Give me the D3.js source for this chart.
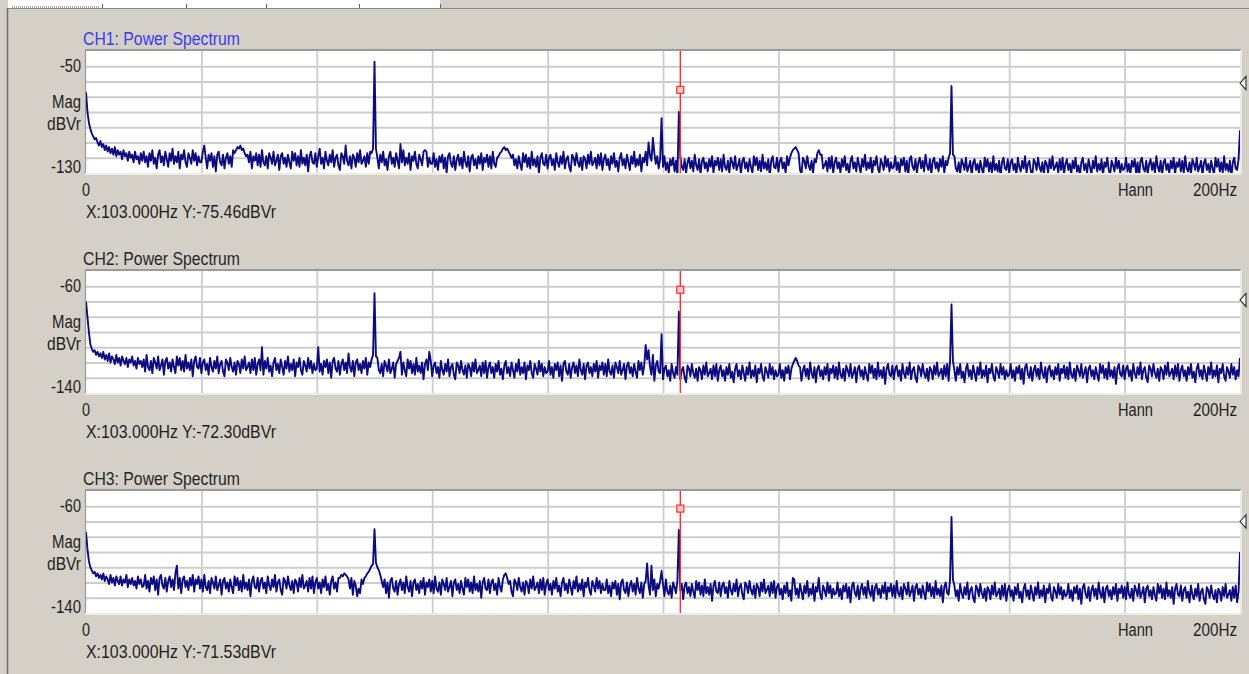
<!DOCTYPE html>
<html><head><meta charset="utf-8">
<script src="https://cdn.jsdelivr.net/npm/d3@7"></script>
<style>html,body{margin:0;padding:0;background:#d4d0c8;overflow:hidden}svg{display:block}</style>
</head><body>
<svg id="c" width="1249" height="674"></svg>
<script>
// ---------------- data ----------------
const freqStepHz = 0.25;
const freqDomain = [0, 200];
const xTickStep = 20;
const yTickStep = 10;
const channelTitles = ["CH1: Power Spectrum", "CH2: Power Spectrum", "CH3: Power Spectrum"];
const yRanges = [[-130, -50], [-140, -60], [-140, -60]];
const cursorFreq = 103;
const cursorValues = [-75.46, -72.30, -71.53];
const refLevels = [-71, -79, -80];
const windowName = "Hann";
const xEndLabel = "200Hz";
const unitLabels = ["Mag", "dBVr"];

// magnitude (dBVr) every 0.25 Hz, 0..200 Hz; one row = 10 Hz
const ch1Floor = [
-77,-90,-97,-101,-104,-106,-108,-107,-110,-112,-109,-113,-111,-115,-112,-116,-113,-117,-114,-118,-113,-119,-115,-118,-116,-121,-115,-119,-117,-122,-116,-120,-118,-123,-116,-121,-119,-124,-117,-122,
-116,-123,-119,-126,-117,-122,-115,-124,-120,-127,-118,-115,-123,-119,-125,-116,-121,-126,-117,-122,-114,-124,-119,-123,-116,-127,-118,-121,-115,-123,-126,-117,-120,-124,-115,-122,-117,-125,-119,-123,
-123,-116,-112,-120,-127,-118,-122,-117,-126,-119,-129,-118,-116,-123,-125,-118,-127,-120,-117,-124,-119,-126,-115,-117,-115,-113,-114,-112,-115,-114,-117,-119,-118,-123,-116,-127,-119,-122,-117,-125,
-118,-126,-115,-123,-125,-119,-127,-117,-120,-124,-116,-125,-122,-118,-128,-119,-117,-124,-120,-126,-118,-123,-127,-116,-122,-117,-125,-119,-126,-115,-124,-120,-125,-118,-129,-119,-116,-123,-124,-117,
-126,-119,-114,-124,-120,-127,-116,-122,-125,-118,-123,-115,-126,-120,-118,-125,-128,-117,-119,-124,-112,-122,-125,-119,-127,-118,-120,-126,-117,-123,-115,-124,-122,-119,-126,-117,-124,-116,-117,-114,
-112,-114,-120,-127,-118,-123,-116,-125,-121,-128,-119,-116,-124,-120,-126,-117,-122,-127,-111,-123,-115,-125,-120,-124,-117,-128,-119,-122,-116,-124,-127,-118,-121,-125,-116,-115,-116,-126,-120,-124,
-124,-117,-126,-121,-128,-119,-123,-118,-127,-120,-130,-119,-117,-124,-126,-119,-128,-121,-118,-125,-120,-127,-116,-123,-126,-119,-129,-120,-118,-125,-121,-127,-119,-124,-117,-128,-120,-123,-118,-126,
-119,-127,-116,-124,-126,-120,-119,-117,-116,-114,-113,-115,-114,-116,-118,-120,-118,-125,-121,-127,-119,-124,-128,-117,-123,-118,-126,-120,-127,-116,-125,-121,-126,-119,-130,-120,-117,-124,-125,-118,
-127,-120,-118,-125,-121,-128,-117,-123,-126,-119,-124,-116,-127,-121,-119,-126,-129,-118,-120,-125,-117,-123,-126,-120,-128,-119,-121,-127,-118,-124,-116,-125,-123,-120,-127,-118,-125,-117,-128,-121,
-118,-125,-121,-128,-119,-124,-117,-126,-122,-129,-120,-117,-125,-121,-127,-118,-123,-128,-119,-124,-116,-126,-121,-125,-118,-129,-120,-123,-117,-125,-128,-119,-122,-126,-117,-124,-119,-127,-121,-125,
-126,-119,-128,-123,-130,-121,-125,-120,-129,-122,-132,-121,-119,-126,-128,-121,-130,-123,-120,-127,-122,-129,-118,-125,-128,-121,-131,-122,-120,-127,-123,-129,-121,-126,-119,-130,-122,-125,-120,-128,
-121,-129,-118,-126,-128,-122,-130,-120,-123,-127,-119,-128,-125,-121,-131,-122,-120,-127,-123,-129,-121,-126,-130,-119,-125,-120,-128,-122,-129,-118,-127,-123,-128,-121,-132,-122,-119,-126,-127,-120,
-129,-122,-120,-127,-123,-130,-119,-125,-120,-117,-115,-114,-113,-115,-117,-128,-131,-120,-122,-127,-119,-125,-128,-122,-130,-121,-123,-117,-115,-118,-118,-127,-125,-122,-129,-120,-127,-119,-130,-123,
-120,-127,-123,-130,-121,-126,-119,-128,-124,-131,-122,-119,-127,-123,-129,-120,-125,-130,-121,-126,-118,-128,-123,-127,-120,-131,-122,-125,-119,-127,-130,-121,-124,-128,-119,-126,-121,-129,-123,-127,
-126,-119,-128,-123,-130,-121,-125,-120,-129,-122,-132,-121,-119,-126,-128,-121,-130,-123,-120,-127,-122,-129,-118,-125,-128,-121,-131,-122,-120,-127,-123,-129,-121,-126,-119,-130,-122,-125,-120,-117,
-122,-118,-119,-127,-129,-123,-131,-121,-124,-128,-120,-129,-126,-122,-132,-123,-121,-128,-124,-130,-122,-127,-131,-120,-126,-121,-129,-123,-130,-119,-128,-124,-129,-122,-133,-123,-120,-127,-128,-121,
-130,-123,-121,-128,-124,-131,-120,-126,-129,-122,-127,-119,-130,-124,-122,-129,-132,-121,-123,-128,-120,-126,-129,-123,-131,-122,-124,-130,-121,-127,-119,-128,-126,-123,-130,-121,-128,-120,-131,-124,
-121,-128,-124,-131,-122,-127,-120,-129,-125,-132,-123,-120,-128,-124,-130,-121,-126,-131,-122,-127,-119,-129,-124,-128,-121,-132,-123,-126,-120,-128,-131,-122,-125,-129,-120,-127,-122,-130,-124,-128,
-127,-120,-129,-124,-131,-122,-126,-121,-130,-123,-133,-122,-120,-127,-129,-122,-131,-124,-121,-128,-123,-130,-119,-126,-129,-122,-132,-123,-121,-128,-124,-130,-122,-127,-120,-131,-123,-126,-121,-129,
-122,-130,-119,-127,-129,-123,-131,-121,-124,-128,-120,-129,-126,-122,-132,-123,-121,-128,-124,-130,-122,-127,-131,-120,-126,-121,-129,-123,-130,-119,-128,-124,-129,-122,-133,-123,-120,-127,-128,-121,
-102];
const ch1Peaks = [[50,-57],[97,-116],[97.5,-110],[98.25,-107],[99.75,-94],[102.75,-90],[150,-73]];

const ch2Floor = [
-80,-90,-100,-108,-111,-113,-112,-115,-113,-116,-114,-117,-113,-118,-115,-119,-114,-120,-116,-118,-121,-115,-120,-117,-122,-116,-119,-121,-117,-123,-118,-120,-116,-122,-119,-124,-117,-121,-119,-123,
-118,-126,-115,-123,-125,-119,-127,-117,-120,-124,-116,-125,-122,-118,-128,-119,-117,-124,-120,-126,-118,-123,-127,-116,-122,-117,-125,-119,-126,-115,-124,-120,-125,-118,-129,-119,-116,-123,-124,-117,
-127,-120,-118,-125,-121,-128,-117,-123,-126,-119,-124,-116,-127,-121,-119,-126,-129,-118,-120,-125,-117,-123,-126,-120,-128,-119,-121,-127,-118,-124,-116,-125,-123,-120,-127,-118,-125,-117,-128,-121,
-118,-125,-110,-128,-119,-124,-117,-126,-122,-129,-120,-117,-125,-121,-127,-118,-123,-128,-119,-124,-116,-126,-121,-125,-118,-129,-120,-123,-117,-125,-128,-119,-122,-126,-117,-124,-119,-127,-121,-125,
-124,-110,-126,-121,-128,-119,-123,-118,-127,-120,-130,-119,-117,-124,-126,-119,-128,-121,-118,-125,-120,-127,-114,-123,-126,-119,-129,-120,-118,-125,-121,-127,-119,-124,-117,-128,-120,-123,-118,-115,
-120,-116,-117,-125,-127,-121,-129,-119,-122,-126,-118,-127,-124,-120,-130,-121,-119,-117,-113,-128,-120,-125,-129,-118,-124,-119,-127,-121,-128,-117,-126,-122,-127,-120,-131,-121,-118,-125,-113,-119,
-129,-122,-120,-127,-123,-130,-119,-125,-128,-121,-126,-118,-129,-123,-121,-128,-131,-120,-122,-127,-119,-125,-128,-122,-130,-121,-123,-129,-120,-126,-118,-127,-125,-122,-129,-120,-127,-119,-130,-123,
-120,-127,-123,-130,-121,-126,-119,-128,-124,-131,-122,-119,-127,-123,-129,-120,-125,-130,-121,-126,-118,-128,-123,-127,-120,-131,-122,-125,-119,-127,-130,-121,-124,-128,-119,-126,-121,-129,-123,-127,
-126,-119,-128,-123,-130,-121,-125,-120,-129,-122,-132,-121,-119,-126,-128,-121,-130,-123,-120,-127,-122,-129,-118,-125,-128,-121,-131,-122,-120,-127,-123,-129,-121,-126,-119,-130,-122,-125,-120,-128,
-121,-129,-118,-126,-128,-122,-130,-120,-123,-127,-119,-128,-125,-121,-131,-122,-120,-127,-123,-129,-121,-126,-130,-119,-125,-120,-128,-122,-129,-118,-127,-123,-128,-121,-132,-122,-119,-126,-127,-120,
-131,-124,-122,-129,-125,-132,-121,-127,-130,-123,-128,-120,-131,-125,-123,-130,-133,-122,-124,-129,-121,-127,-130,-124,-132,-123,-125,-131,-122,-128,-120,-129,-127,-124,-131,-122,-129,-121,-132,-125,
-122,-129,-125,-132,-123,-128,-121,-130,-126,-133,-124,-121,-129,-125,-131,-122,-127,-132,-123,-128,-120,-130,-125,-129,-122,-133,-124,-127,-121,-129,-132,-123,-126,-130,-121,-128,-123,-131,-125,-129,
-128,-121,-130,-125,-132,-123,-127,-122,-131,-124,-121,-119,-117,-119,-122,-123,-132,-125,-122,-129,-124,-131,-120,-127,-130,-123,-133,-124,-122,-129,-125,-131,-123,-128,-121,-132,-124,-127,-122,-130,
-123,-131,-120,-128,-130,-124,-132,-122,-125,-129,-121,-130,-127,-123,-133,-124,-122,-129,-125,-131,-123,-128,-132,-121,-127,-122,-130,-124,-131,-120,-129,-125,-130,-123,-134,-124,-121,-128,-129,-122,
-131,-124,-122,-129,-125,-132,-121,-127,-130,-123,-128,-120,-131,-125,-123,-130,-133,-122,-124,-129,-121,-127,-130,-124,-132,-123,-125,-131,-122,-128,-120,-129,-127,-124,-131,-122,-129,-121,-132,-119,
-122,-119,-125,-132,-123,-128,-121,-130,-126,-133,-124,-121,-129,-125,-131,-122,-127,-132,-123,-128,-120,-130,-125,-129,-122,-133,-124,-127,-121,-129,-132,-123,-126,-130,-121,-128,-123,-131,-125,-129,
-128,-121,-130,-125,-132,-123,-127,-122,-131,-124,-134,-123,-121,-128,-130,-123,-132,-125,-122,-129,-124,-131,-120,-127,-130,-123,-133,-124,-122,-129,-125,-131,-123,-128,-121,-132,-124,-127,-122,-130,
-123,-131,-120,-128,-130,-124,-132,-122,-125,-129,-121,-130,-127,-123,-133,-124,-122,-129,-125,-131,-123,-128,-132,-121,-127,-122,-130,-124,-131,-120,-129,-125,-130,-123,-134,-124,-121,-128,-129,-122,
-131,-124,-122,-129,-125,-132,-121,-127,-130,-123,-128,-120,-131,-125,-123,-130,-133,-122,-124,-129,-121,-127,-130,-124,-132,-123,-125,-131,-122,-128,-120,-129,-127,-124,-131,-122,-129,-121,-132,-125,
-122,-129,-125,-132,-123,-128,-121,-130,-126,-133,-124,-121,-129,-125,-131,-122,-127,-132,-123,-128,-120,-130,-125,-129,-122,-133,-124,-127,-121,-129,-132,-123,-126,-130,-121,-128,-123,-131,-125,-129,
-117];
const ch2Peaks = [[50,-74.6],[97,-108.5],[97.5,-112],[98.25,-115],[99.75,-101.5],[102.75,-86.7],[150,-82]];

const ch3Floor = [
-87,-98,-106,-110,-112,-114,-113,-116,-114,-117,-115,-118,-114,-119,-116,-118,-121,-115,-120,-117,-122,-116,-119,-121,-116,-122,-118,-120,-115,-123,-118,-121,-117,-122,-119,-124,-116,-121,-118,-123,
-122,-115,-124,-119,-126,-117,-121,-116,-125,-118,-128,-117,-115,-122,-124,-117,-126,-119,-116,-123,-118,-125,-114,-109,-124,-117,-127,-118,-116,-123,-119,-125,-117,-122,-115,-126,-118,-121,-116,-124,
-118,-126,-115,-123,-125,-119,-127,-117,-120,-124,-116,-125,-122,-118,-128,-119,-117,-124,-120,-126,-118,-123,-127,-116,-122,-117,-125,-119,-126,-115,-124,-120,-125,-118,-129,-119,-116,-123,-124,-117,
-126,-119,-117,-124,-120,-127,-116,-122,-125,-118,-123,-115,-126,-120,-118,-125,-128,-117,-119,-124,-116,-122,-125,-119,-127,-118,-120,-126,-117,-123,-115,-124,-122,-119,-126,-117,-124,-116,-127,-120,
-117,-124,-120,-127,-118,-123,-116,-125,-121,-128,-119,-116,-124,-120,-126,-117,-117,-115,-116,-114,-115,-116,-118,-124,-117,-128,-119,-122,-129,-124,-127,-118,-121,-117,-116,-114,-113,-111,-109,-108,
-124,-107,-110,-112,-115,-119,-123,-118,-127,-120,-130,-119,-117,-124,-126,-119,-128,-121,-118,-125,-120,-127,-116,-123,-126,-119,-129,-120,-118,-125,-121,-127,-119,-124,-117,-128,-120,-123,-118,-126,
-119,-127,-116,-124,-126,-120,-128,-118,-121,-125,-117,-126,-123,-119,-129,-120,-118,-125,-121,-127,-119,-124,-128,-117,-123,-118,-126,-120,-127,-116,-125,-121,-126,-119,-130,-120,-117,-124,-125,-118,
-127,-120,-118,-125,-121,-128,-117,-123,-126,-118,-115,-114,-117,-121,-119,-126,-129,-118,-120,-125,-117,-123,-126,-120,-128,-119,-121,-127,-118,-124,-116,-125,-123,-120,-127,-118,-125,-117,-128,-121,
-118,-125,-121,-128,-119,-124,-117,-126,-122,-129,-120,-117,-125,-121,-127,-118,-123,-128,-119,-124,-116,-126,-121,-125,-118,-129,-120,-123,-117,-125,-128,-119,-122,-126,-117,-124,-119,-127,-121,-125,
-125,-118,-127,-122,-129,-120,-124,-119,-128,-121,-131,-120,-118,-125,-127,-120,-129,-122,-119,-126,-121,-128,-117,-124,-127,-120,-130,-121,-119,-126,-122,-128,-120,-125,-118,-129,-121,-124,-119,-127,
-121,-129,-118,-126,-128,-122,-130,-120,-123,-127,-119,-128,-125,-121,-131,-122,-120,-127,-123,-129,-121,-126,-130,-119,-125,-120,-128,-122,-129,-118,-127,-123,-128,-121,-132,-122,-119,-126,-127,-120,
-129,-122,-120,-127,-123,-130,-119,-125,-128,-121,-126,-118,-129,-123,-121,-128,-131,-120,-122,-127,-119,-125,-128,-122,-130,-121,-123,-129,-120,-126,-118,-127,-125,-122,-129,-120,-127,-119,-130,-123,
-121,-128,-124,-131,-122,-127,-120,-129,-125,-132,-117,-118,-128,-124,-130,-121,-126,-131,-122,-127,-119,-129,-124,-128,-121,-132,-123,-126,-117,-128,-131,-122,-125,-129,-120,-127,-122,-130,-124,-128,
-127,-120,-129,-124,-131,-122,-126,-121,-130,-123,-133,-122,-120,-127,-129,-122,-131,-124,-121,-128,-123,-130,-119,-126,-129,-122,-132,-123,-121,-128,-124,-130,-122,-127,-120,-131,-123,-126,-121,-129,
-122,-130,-119,-127,-129,-123,-131,-121,-124,-128,-120,-129,-126,-122,-132,-123,-121,-128,-124,-130,-122,-127,-131,-120,-126,-121,-129,-123,-130,-119,-128,-124,-129,-122,-133,-123,-120,-127,-128,-118,
-131,-118,-122,-129,-125,-132,-121,-127,-130,-123,-128,-120,-131,-125,-123,-130,-133,-122,-124,-129,-121,-127,-130,-124,-132,-123,-125,-131,-122,-128,-120,-129,-127,-124,-131,-122,-129,-121,-132,-125,
-122,-129,-125,-132,-123,-128,-121,-130,-126,-133,-124,-121,-129,-125,-131,-122,-127,-132,-123,-128,-120,-130,-125,-129,-122,-133,-124,-127,-121,-129,-132,-123,-126,-130,-121,-128,-123,-131,-125,-129,
-128,-121,-130,-125,-132,-123,-127,-122,-131,-124,-134,-123,-121,-128,-130,-123,-132,-125,-122,-129,-124,-131,-120,-127,-130,-123,-133,-124,-122,-129,-125,-131,-123,-128,-121,-132,-124,-127,-122,-130,
-123,-131,-120,-128,-130,-124,-132,-122,-125,-129,-121,-130,-127,-123,-133,-124,-122,-129,-125,-131,-123,-128,-132,-121,-127,-122,-130,-124,-131,-120,-129,-125,-130,-123,-134,-124,-121,-128,-129,-122,
-132,-125,-123,-130,-126,-133,-122,-128,-131,-124,-129,-121,-132,-126,-124,-131,-134,-123,-125,-130,-122,-128,-131,-125,-133,-124,-126,-132,-123,-129,-121,-130,-128,-125,-132,-123,-130,-122,-133,-126,
-100];
const ch3Peaks = [[50,-85],[97.25,-107.5],[98,-109],[99.75,-112.5],[102.75,-85.5],[150,-77]];

const floors = [ch1Floor, ch2Floor, ch3Floor];
const peaks = [ch1Peaks, ch2Peaks, ch3Peaks];

// ---------------- layout / style ----------------
const W = 1249, H = 674;
const plotLeft = 86, plotRight = 1240;
const panelTops = [51, 271, 491];
const plotH = 122;
const FONT = "'Liberation Sans', Arial, sans-serif";
const FS = 17.5;
const textColor = "#1e1e1e";
const titleColors = ["#3a3af2", "#262626", "#262626"];
const traceColor = "#0c0c80";

const svg = d3.select("#c");
svg.append("rect").attr("width", W).attr("height", H).attr("fill", "#d4d0c8");

// top tab strip & outer frame
svg.append("rect").attr("x", 8).attr("y", 0).attr("width", 432).attr("height", 8).attr("fill", "#ffffff");
svg.append("line").attr("x1", 7).attr("x2", W).attr("y1", 8.5).attr("y2", 8.5).attr("stroke", "#8a8a8a").attr("stroke-width", 1);
svg.append("line").attr("x1", 12).attr("x2", 100).attr("y1", 7).attr("y2", 7).attr("stroke", "#555").attr("stroke-dasharray", "1,1");
[102, 186, 266, 359, 440].forEach(t => svg.append("line").attr("x1", t + .5).attr("x2", t + .5).attr("y1", 4).attr("y2", 8).attr("stroke", "#666"));
svg.append("line").attr("x1", 7.5).attr("x2", 7.5).attr("y1", 8).attr("y2", H).attr("stroke", "#6e6e6e").attr("stroke-width", 1.5);

const x = d3.scaleLinear().domain(freqDomain).range([plotLeft, plotRight]);

function addText(g, str, px, baseline, opts = {}) {
  const w = opts.width;
  const anchorX = (opts.anchor === "end" && w) ? px - w : px;
  const t = g.append("text").attr("x", anchorX).attr("y", baseline)
    .attr("font-family", FONT).attr("font-size", opts.size || FS)
    .attr("fill", opts.color || textColor)
    .attr("text-anchor", (opts.anchor === "end" && !w) ? "end" : "start").text(str);
  if (w) t.attr("textLength", w).attr("lengthAdjust", "spacingAndGlyphs");
  return t;
}

function buildSeries(floor, pk) {
  const pts = floor.map((v, i) => [i * freqStepHz, v]);
  pk.forEach(([f, v]) => {
    const idx = pts.findIndex(p => Math.abs(p[0] - f) < 1e-6);
    if (idx >= 0) pts[idx] = [f, v]; else pts.push([f, v]);
  });
  return pts.sort((a, b) => a[0] - b[0]);
}

panelTops.forEach((top, p) => {
  const bottom = top + plotH;
  const [yMin, yMax] = yRanges[p];
  const y = d3.scaleLinear().domain([yMin, yMax]).range([bottom, top]);
  const g = svg.append("g");

  g.append("rect").attr("x", plotLeft).attr("y", top).attr("width", plotRight - plotLeft).attr("height", plotH).attr("fill", "#ffffff");

  const gx = g.append("g").attr("transform", `translate(0,${bottom})`)
    .call(d3.axisBottom(x).tickValues(d3.range(freqDomain[0] + xTickStep, freqDomain[1], xTickStep)).tickSize(-plotH).tickFormat(""));
  const gy = g.append("g").attr("transform", `translate(${plotLeft},0)`)
    .call(d3.axisLeft(y).tickValues(d3.range(yMin + yTickStep, yMax, yTickStep)).tickSize(-(plotRight - plotLeft)).tickFormat(""));
  [gx, gy].forEach(a => {
    a.select(".domain").remove();
    a.selectAll("line").attr("stroke", "#cdcdcd").attr("stroke-width", 1.8);
  });

  g.append("line").attr("x1", plotLeft - 1).attr("x2", plotRight + 1).attr("y1", top - 1).attr("y2", top - 1).attr("stroke", "#9c9a96").attr("stroke-width", 2);
  g.append("line").attr("x1", plotLeft - 0.5).attr("x2", plotLeft - 0.5).attr("y1", top - 1).attr("y2", bottom + 1).attr("stroke", "#9c9a96").attr("stroke-width", 1.2);
  g.append("line").attr("x1", plotLeft - 1).attr("x2", plotRight + 1).attr("y1", bottom + 1).attr("y2", bottom + 1).attr("stroke", "#ecebe8").attr("stroke-width", 2);
  g.append("line").attr("x1", plotRight + 1).attr("x2", plotRight + 1).attr("y1", top - 1).attr("y2", bottom + 1).attr("stroke", "#ecebe8").attr("stroke-width", 2);

  const clipId = "clip" + p;
  svg.append("clipPath").attr("id", clipId).append("rect")
    .attr("x", plotLeft).attr("y", top).attr("width", plotRight - plotLeft).attr("height", plotH);
  const series = buildSeries(floors[p], peaks[p]);
  g.append("path").datum(series).attr("clip-path", `url(#${clipId})`)
    .attr("fill", "none").attr("stroke", traceColor).attr("stroke-width", 1.9).attr("stroke-linejoin", "round")
    .attr("d", d3.line().x(d => x(d[0])).y(d => y(d[1])));

  const cx = x(cursorFreq);
  g.append("line").attr("x1", cx).attr("x2", cx).attr("y1", top).attr("y2", bottom).attr("stroke", "#ff2d2d").attr("stroke-width", 1.4);
  g.append("rect").attr("x", cx - 3.5).attr("y", y(cursorValues[p]) - 3.5).attr("width", 7).attr("height", 7)
    .attr("fill", "#ffc8c8").attr("stroke", "#ff3030").attr("stroke-width", 1.2);

  const ry = y(refLevels[p]);
  g.append("path").attr("d", `M${plotRight},${ry}L${plotRight + 6},${ry - 6.5}L${plotRight + 6},${ry + 6.5}Z`)
    .attr("fill", "#ffffff").attr("stroke", "#2a2a2a").attr("stroke-width", 1.1);

  addText(g, channelTitles[p], 83, top - 6, { color: titleColors[p], width: 157 });
  addText(g, String(yMax), 81, top + 21, { anchor: "end", width: 21 });
  addText(g, unitLabels[0], 81, top + 57, { anchor: "end", width: 29 });
  addText(g, unitLabels[1], 81, top + 79, { anchor: "end", width: 34 });
  addText(g, String(yMin), 81, bottom, { anchor: "end", width: 30 });
  addText(g, String(freqDomain[0]), 82, bottom + 23, { width: 8 });
  addText(g, windowName, 1118, bottom + 23, { width: 35 });
  addText(g, xEndLabel, 1193, bottom + 23, { width: 44 });
  addText(g, `X:${cursorFreq.toFixed(3)}Hz Y:${cursorValues[p].toFixed(2)}dBVr`, 86, bottom + 45, { width: 190 });
});
</script>
</body></html>
